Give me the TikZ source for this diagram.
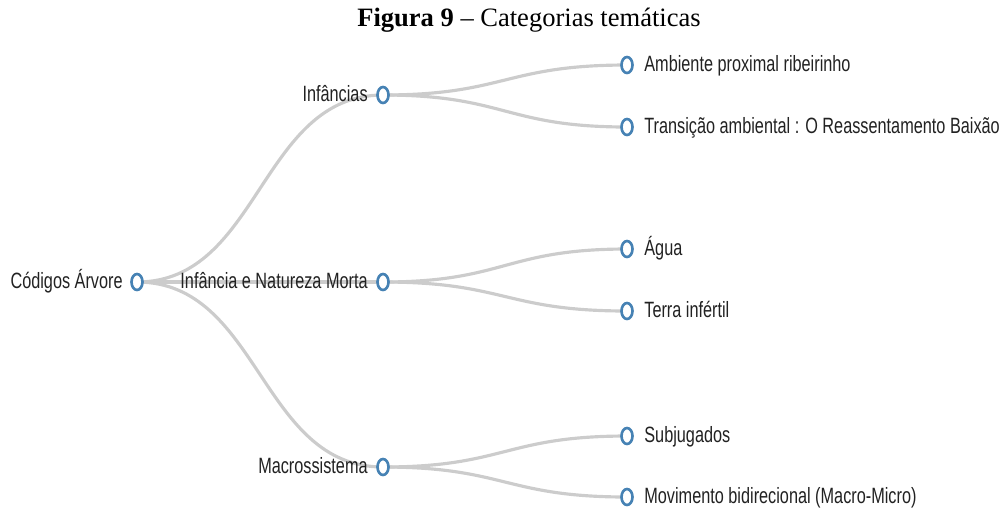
\documentclass[tikz,border=0pt]{standalone}
\usepackage{fontspec}
\setmainfont{Liberation Serif}
\newfontfamily\lblfont[FakeStretch=0.735]{Liberation Sans}
\usetikzlibrary{shapes.geometric,calc,backgrounds}
\definecolor{nodeblue}{HTML}{4682B4}
\definecolor{linkgray}{HTML}{CCCCCC}
\definecolor{txt}{HTML}{222222}
\tikzset{
  dot/.style={ellipse,draw=nodeblue,fill=white,line width=1.5pt,minimum width=0.22cm,minimum height=0.32cm,inner sep=0pt},
  lbl/.style={font=\lblfont\fontsize{12.6}{15}\selectfont,text=txt,inner sep=0pt},
  lnk/.style={draw=linkgray,line width=1.8pt}
}
\newcommand\treelink[2]{\path[lnk] let \p1=(#1.center), \p2=(#2.center) in (\p1) .. controls ({0.5*\x1+0.5*\x2},\y1) and ({0.5*\x1+0.5*\x2},\y2) .. (\p2);}
\begin{document}
\begin{tikzpicture}[x=0.02cm,y=-0.02cm]
\useasboundingbox (0,0) rectangle (1003,512);
\node[anchor=base,font=\fontsize{15.1}{18}\selectfont] (title) at (529,26) {\textbf{Figura 9} -- Categorias temáticas};
% nodes
\node[dot] (r) at (137,282) {};
\node[dot] (a) at (383,95) {};
\node[dot] (b) at (383,282) {};
\node[dot] (c) at (383,467) {};
\node[dot] (a1) at (627,65) {};
\node[dot] (a2) at (627,127) {};
\node[dot] (b1) at (627,249) {};
\node[dot] (b2) at (627,311) {};
\node[dot] (c1) at (627,436) {};
\node[dot] (c2) at (627,497) {};
% labels
\node[lbl,anchor=base east] (tr) at ($(r)+(-14,6.5)$) {Códigos Árvore};
\node[lbl,anchor=base east] (ta) at ($(a)+(-15,6.5)$) {Infâncias};
\node[lbl,anchor=base east] (tb) at ($(b)+(-15,6.5)$) {Infância e Natureza Morta};
\node[lbl,anchor=base east] (tc) at ($(c)+(-15,6.5)$) {Macrossistema};
\node[lbl,anchor=base west] (ta1) at ($(a1)+(17,6.5)$) {Ambiente proximal ribeirinho};
\node[lbl,anchor=base west] (ta2) at ($(a2)+(17,6.5)$) {Transição ambiental : O Reassentamento Baixão};
\node[lbl,anchor=base west] (tb1) at ($(b1)+(17,6.5)$) {Água};
\node[lbl,anchor=base west] (tb2) at ($(b2)+(17,6.5)$) {Terra infértil};
\node[lbl,anchor=base west] (tc1) at ($(c1)+(17,6.5)$) {Subjugados};
\node[lbl,anchor=base west] (tc2) at ($(c2)+(17,6.5)$) {Movimento bidirecional (Macro-Micro)};
\begin{scope}[on background layer]
\treelink{r}{a}
\treelink{r}{b}
\treelink{r}{c}
\treelink{a}{a1}
\treelink{a}{a2}
\treelink{b}{b1}
\treelink{b}{b2}
\treelink{c}{c1}
\treelink{c}{c2}
\end{scope}
\end{tikzpicture}
\end{document}
